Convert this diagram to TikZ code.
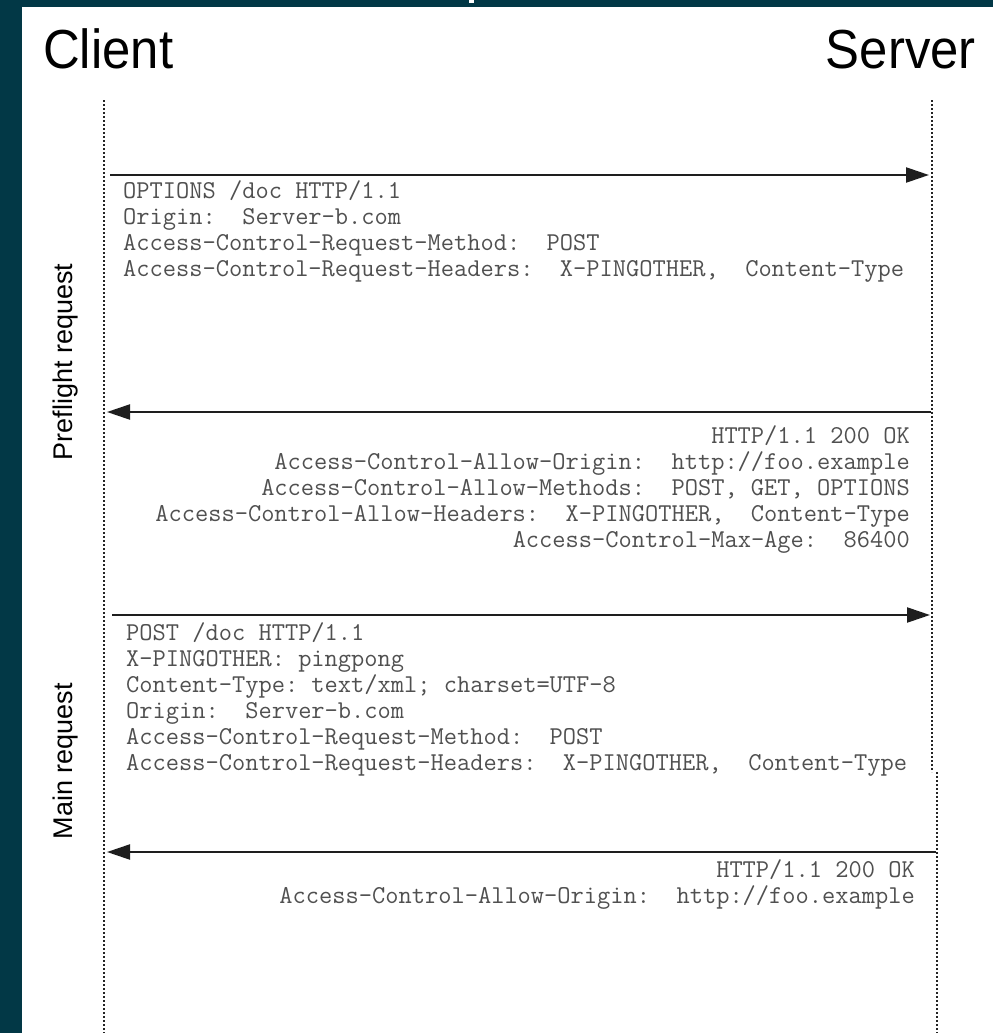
\documentclass[tikz,border=0pt]{standalone}
\usepackage{fontspec}
\setmainfont{Liberation Sans}
\usetikzlibrary{arrows.meta}
\definecolor{frameteal}{HTML}{023846}
\definecolor{lifegray}{RGB}{35,35,35}
\definecolor{arrowgray}{RGB}{30,30,30}
\definecolor{textgray}{RGB}{80,80,80}

\begin{document}
\begin{tikzpicture}[x=1pt,y=-1pt,
  lifeline/.style={line width=1.2pt, draw=lifegray, dash pattern=on 2pt off 2pt},
  msg/.style={line width=2.2pt, draw=arrowgray, -{Triangle[length=23pt,width=15pt]}},
  httptext/.style={font=\fontsize{25.7}{26}\selectfont\ttfamily\frenchspacing, text=textgray, inner sep=0pt},
  party/.style={font=\fontsize{55}{60}\selectfont, text=black, inner sep=0pt, anchor=base},
  phase/.style={font=\fontsize{27}{30}\selectfont, text=black, inner sep=0pt, rotate=90, anchor=base}
]
\useasboundingbox (0,0) rectangle (993,1033);

% frame and white sheet
\fill[frameteal] (0,0) rectangle (993,1033);
\fill[white] (22,7) rectangle (993,1033);
\fill[white] (469,0) rectangle (474,3);

% participants
\node[party, anchor=base west] (client) at (43,68) {\scalebox{0.925}[1]{Client}};
\node[party, anchor=base east] (server) at (976,68) {\scalebox{0.925}[1]{Server}};

% lifelines
\coordinate (ctop) at (104,100);
\coordinate (cbot) at (104,1033);
\coordinate (stop) at (932,100);
\coordinate (smid) at (932,772);
\coordinate (smid2) at (937,772);
\coordinate (sbot) at (937,1033);
\draw[lifeline] (ctop) -- (cbot);
\draw[lifeline] (stop) -- (smid);
\draw[lifeline] (smid2) -- (sbot);

% phase labels
\node[phase] (preflight) at (72,362) {Preflight request};
\node[phase] (mainreq) at (72,761) {Main request};

% preflight request
\coordinate (m1a) at (110,175);
\coordinate (m1b) at (929,175);
\draw[msg] (m1a) -- (m1b);
\node[httptext, anchor=north west, align=left] (req1) at (123,180)
  {OPTIONS /doc HTTP/1.1\\
   Origin:\ \ Server-b.com\\
   Access-Control-Request-Method:\ \ POST\\
   Access-Control-Request-Headers:\ \ X-PINGOTHER,\ \ Content-Type};

% preflight response
\coordinate (m2a) at (931,412);
\coordinate (m2b) at (107,412);
\draw[msg] (m2a) -- (m2b);
\node[httptext, anchor=north east, align=right] (res1) at (910,425)
  {HTTP/1.1 200 OK\\
   Access-Control-Allow-Origin:\ \ http://foo.example\\
   Access-Control-Allow-Methods:\ \ POST, GET, OPTIONS\\
   Access-Control-Allow-Headers:\ \ X-PINGOTHER,\ \ Content-Type\\
   Access-Control-Max-Age:\ \ 86400};

% main request
\coordinate (m3a) at (112,615);
\coordinate (m3b) at (930,615);
\draw[msg] (m3a) -- (m3b);
\node[httptext, anchor=north west, align=left] (req2) at (126,622)
  {POST /doc HTTP/1.1\\
   X-PINGOTHER: pingpong\\
   Content-Type: text/xml; charset=UTF-8\\
   Origin:\ \ Server-b.com\\
   Access-Control-Request-Method:\ \ POST\\
   Access-Control-Request-Headers:\ \ X-PINGOTHER,\ \ Content-Type};

% main response
\coordinate (m4a) at (936,852);
\coordinate (m4b) at (107,852);
\draw[msg] (m4a) -- (m4b);
\node[httptext, anchor=north east, align=right] (res2) at (915,859)
  {HTTP/1.1 200 OK\\
   Access-Control-Allow-Origin:\ \ http://foo.example};
\end{tikzpicture}
\end{document}
